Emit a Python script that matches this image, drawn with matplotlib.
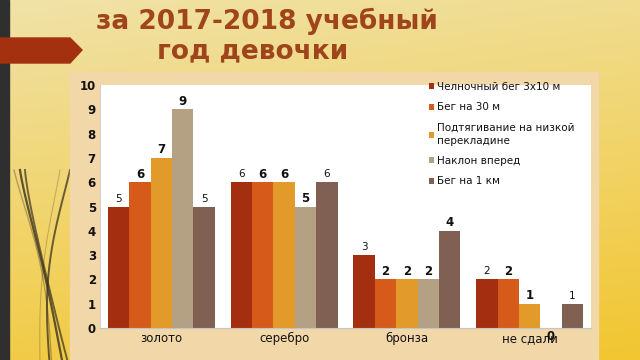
import numpy as np
import matplotlib
matplotlib.use("Agg")
import matplotlib.pyplot as plt
from matplotlib.patches import Rectangle, Polygon

plt.rcParams['font.family'] = ['DejaVu Sans']

# data
title_line1 = "за 2017-2018 учебный"
title_line2 = "год девочки"
categories = ["золото", "серебро", "бронза", "не сдали"]
series_names = ["Челночный бег 3х10 м", "Бег на 30 м",
                "Подтягивание на низкой\nперекладине", "Наклон вперед", "Бег на 1 км"]
shuttle = [5, 6, 3, 2]
run30 = [6, 6, 2, 2]
pullup = [7, 6, 2, 1]
bend = [9, 5, 2, 0]
run1k = [5, 6, 4, 1]
y_ticks = list(range(0, 11))

# style
colors = ['#a42f10', '#d65a1a', '#e29a2a', '#b4a083', '#7f6053']
label_bold = [
    [False, False, False, False],
    [True, True, True, True],
    [True, True, True, True],
    [True, True, True, True],
    [False, False, True, False],
]

W, H = 640, 360
fig = plt.figure(figsize=(6.4, 3.6), dpi=100)

# background
bg = fig.add_axes([0, 0, 1, 1])
bg.set_xlim(0, W)
bg.set_ylim(H, 0)
bg.axis('off')
yy, xx = np.mgrid[0:1:180j, 0:1:320j]
t = np.clip(0.8 * yy + 0.2 * xx, 0, 1)
top = np.array([240, 226, 168]) / 255
bot = np.array([242, 198, 48]) / 255
grad = top[None, None, :] * (1 - t[..., None]) + bot[None, None, :] * t[..., None]
bg.imshow(grad, extent=[0, W, H, 0], aspect='auto', zorder=0)
bg.add_patch(Rectangle((0, 0), 9, H, color='#2f2f2f', zorder=1))

# decorative curves at the left
s = np.linspace(0, 1, 100)
for x0, x1, bend_amt, lw, a in [(20, 64, 8, 1.6, 0.8), (25, 70, 4, 1.4, 0.7),
                                (14, 52, 14, 1.0, 0.35), (70, 50, -14, 1.4, 0.75),
                                (60, 40, -10, 0.8, 0.25)]:
    xs = x0 + (x1 - x0) * s ** 1.5 + bend_amt * np.sin(np.pi * s)
    ys = 170 + 200 * s
    bg.plot(xs, ys, color='#3a3220', lw=lw, alpha=a, zorder=1)

bg.add_patch(Polygon([(0, 38), (70, 38), (82, 50), (70, 63), (0, 63)],
                     closed=True, color='#a3300f', zorder=2))
bg.add_patch(Rectangle((70, 72), 528, 288, color='#f2d7a9', zorder=2))
bg.text(267, 21, title_line1, ha='center', va='center', fontsize=19,
        fontweight='bold', color='#a0441c', zorder=3)
bg.text(253, 51, title_line2, ha='center', va='center', fontsize=19,
        fontweight='bold', color='#a0441c', zorder=3)

# chart
ax = fig.add_axes([100 / W, 32 / H, 491 / W, 243 / H])
ax.set_facecolor('white')
series = [shuttle, run30, pullup, bend, run1k]
x = np.arange(len(categories))
bw = 0.174
for j, (vals, name) in enumerate(zip(series, series_names)):
    pos = x + (j - 2) * bw
    ax.bar(pos, vals, width=bw, color=colors[j], label=name, zorder=2)
    for k, (p, v) in enumerate(zip(pos, vals)):
        bold = label_bold[j][k]
        off = 8 if v > 0 else -8
        ax.annotate(str(v), (p, v), xytext=(0, off), textcoords='offset pixels',
                    ha='center', va='center',
                    fontsize=8.5 if bold else 7.5,
                    fontweight='bold' if bold else 'normal',
                    color='#111111', zorder=4, annotation_clip=False)

ax.set_xlim(-0.5, len(categories) - 0.5)
ax.set_ylim(0, 10)
ax.set_yticks(y_ticks)
ax.set_yticklabels([str(v) for v in y_ticks], fontsize=8.5, fontweight='bold')
ax.set_xticks(x)
ax.set_xticklabels(categories, fontsize=8.5)
ax.tick_params(axis='both', length=0, colors='#111111')
ax.tick_params(axis='y', pad=3)
ax.tick_params(axis='x', pad=3)
for side in ['top', 'right']:
    ax.spines[side].set_visible(False)
ax.spines['left'].set_color('#d0d0d0')
ax.spines['bottom'].set_color('#c4c4c4')

leg = ax.legend(loc='upper left', bbox_to_anchor=(429 / W, 1 - 82 / H),
                bbox_transform=fig.transFigure, frameon=False, fontsize=7.5,
                handlelength=0.5, handleheight=0.5, handletextpad=0.3,
                labelspacing=1.0, borderaxespad=0, borderpad=0)
for txt in leg.get_texts():
    txt.set_color('#111111')
    txt.set_linespacing(1.35)

fig.savefig('out.png', dpi=100)
